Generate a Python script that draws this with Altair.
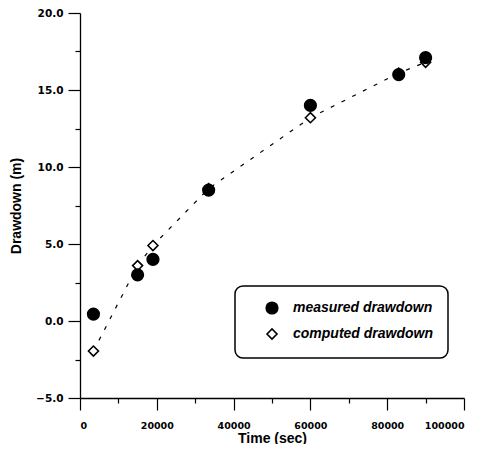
import altair as alt
import pandas as pd

time_sec = [3500, 15000, 19000, 33500, 60000, 83000, 90000]
measured = [0.45, 3.0, 4.0, 8.5, 14.0, 16.0, 17.1]
computed = [-1.95, 3.6, 4.9, 8.6, 13.2, 16.1, 16.8]
series_names = ["measured drawdown", "computed drawdown"]

rows = []
for t, c in zip(time_sec, computed):
    rows.append({"t": t, "s": c, "series": series_names[1]})
for t, m in zip(time_sec, measured):
    rows.append({"t": t, "s": m, "series": series_names[0]})
df = pd.DataFrame(rows)
df_comp = df[df["series"] == series_names[1]]

LABEL_FONT = "DejaVu Sans"
FONT = "Liberation Sans"

x_enc = alt.X(
    "t:Q",
    scale=alt.Scale(domain=[0, 100000], nice=False),
    axis=alt.Axis(
        title="Time (sec)",
        values=list(range(0, 100001, 10000)),
        labelExpr="datum.value % 20000 === 0 ? format(datum.value, 'd') : ''",
        tickSize={"condition": {"test": "datum.value % 20000 === 0", "value": 12}, "value": 5},
        labelOverlap=False,
        labelFlush=True,
        labelPadding=10,
        labelFontSize=9.5,
        grid=False,
        titlePadding=2,
    ),
)
y_enc = alt.Y(
    "s:Q",
    scale=alt.Scale(domain=[-5, 20], nice=False),
    axis=alt.Axis(
        title="Drawdown (m)",
        values=[-5 + 2.5 * i for i in range(11)],
        labelExpr="datum.value % 5 === 0 ? format(datum.value, '.1f') : ''",
        tickSize={"condition": {"test": "datum.value % 5 === 0", "value": 12}, "value": 5},
        labelOverlap=False,
        labelPadding=5,
        labelFontSize=10.5,
        grid=False,
        titlePadding=12,
    ),
)

line = alt.Chart(df_comp).mark_line(
    color="black", strokeWidth=1.2, strokeDash=[4, 8]
).encode(x=x_enc, y=y_enc)

legend_common = dict(
    title=None,
    orient="none",
    legendX=155,
    legendY=273,
)

points = alt.Chart(df).mark_point(
    filled=False, strokeWidth=1.6, opacity=1
).encode(
    x=x_enc,
    y=y_enc,
    shape=alt.Shape(
        "series:N",
        scale=alt.Scale(domain=series_names, range=["circle", "diamond"]),
        legend=alt.Legend(**legend_common),
    ),
    fill=alt.Fill(
        "series:N",
        scale=alt.Scale(domain=series_names, range=["black", "white"]),
        legend=alt.Legend(**legend_common),
    ),
    stroke=alt.Stroke(
        "series:N",
        scale=alt.Scale(domain=series_names, range=["black", "black"]),
        legend=alt.Legend(**legend_common),
    ),
    size=alt.Size(
        "series:N",
        scale=alt.Scale(domain=series_names, range=[135, 100]),
        legend=alt.Legend(**legend_common),
    ),
)

chart = (
    alt.layer(line, points)
    .properties(
        width=384,
        height=385,
        background="white",
        autosize=alt.AutoSizeParams(type="none"),
        padding={"left": 72, "top": 5, "right": 10, "bottom": 46},
    )
    .configure_view(strokeWidth=0)
    .configure_axis(
        domainColor="black",
        domainWidth=1.3,
        tickColor="black",
        tickWidth=1.2,
        labelFont=LABEL_FONT,
        labelFontWeight="bold",
        labelColor="black",
        titleFont=FONT,
        titleFontSize=14,
        titleFontWeight="bold",
        titleColor="black",
    )
    .configure_legend(
        strokeColor="black",
        strokeWidth=1.5,
        cornerRadius=8,
        padding=15,
        labelFont=FONT,
        labelFontSize=14,
        labelFontStyle="italic",
        labelFontWeight="bold",
        labelColor="black",
        symbolStrokeWidth=1.6,
        symbolOffset=15,
        rowPadding=7,
        labelOffset=14,
    )
)

chart.save("out.html", embed_options={"renderer": "svg", "actions": False})
